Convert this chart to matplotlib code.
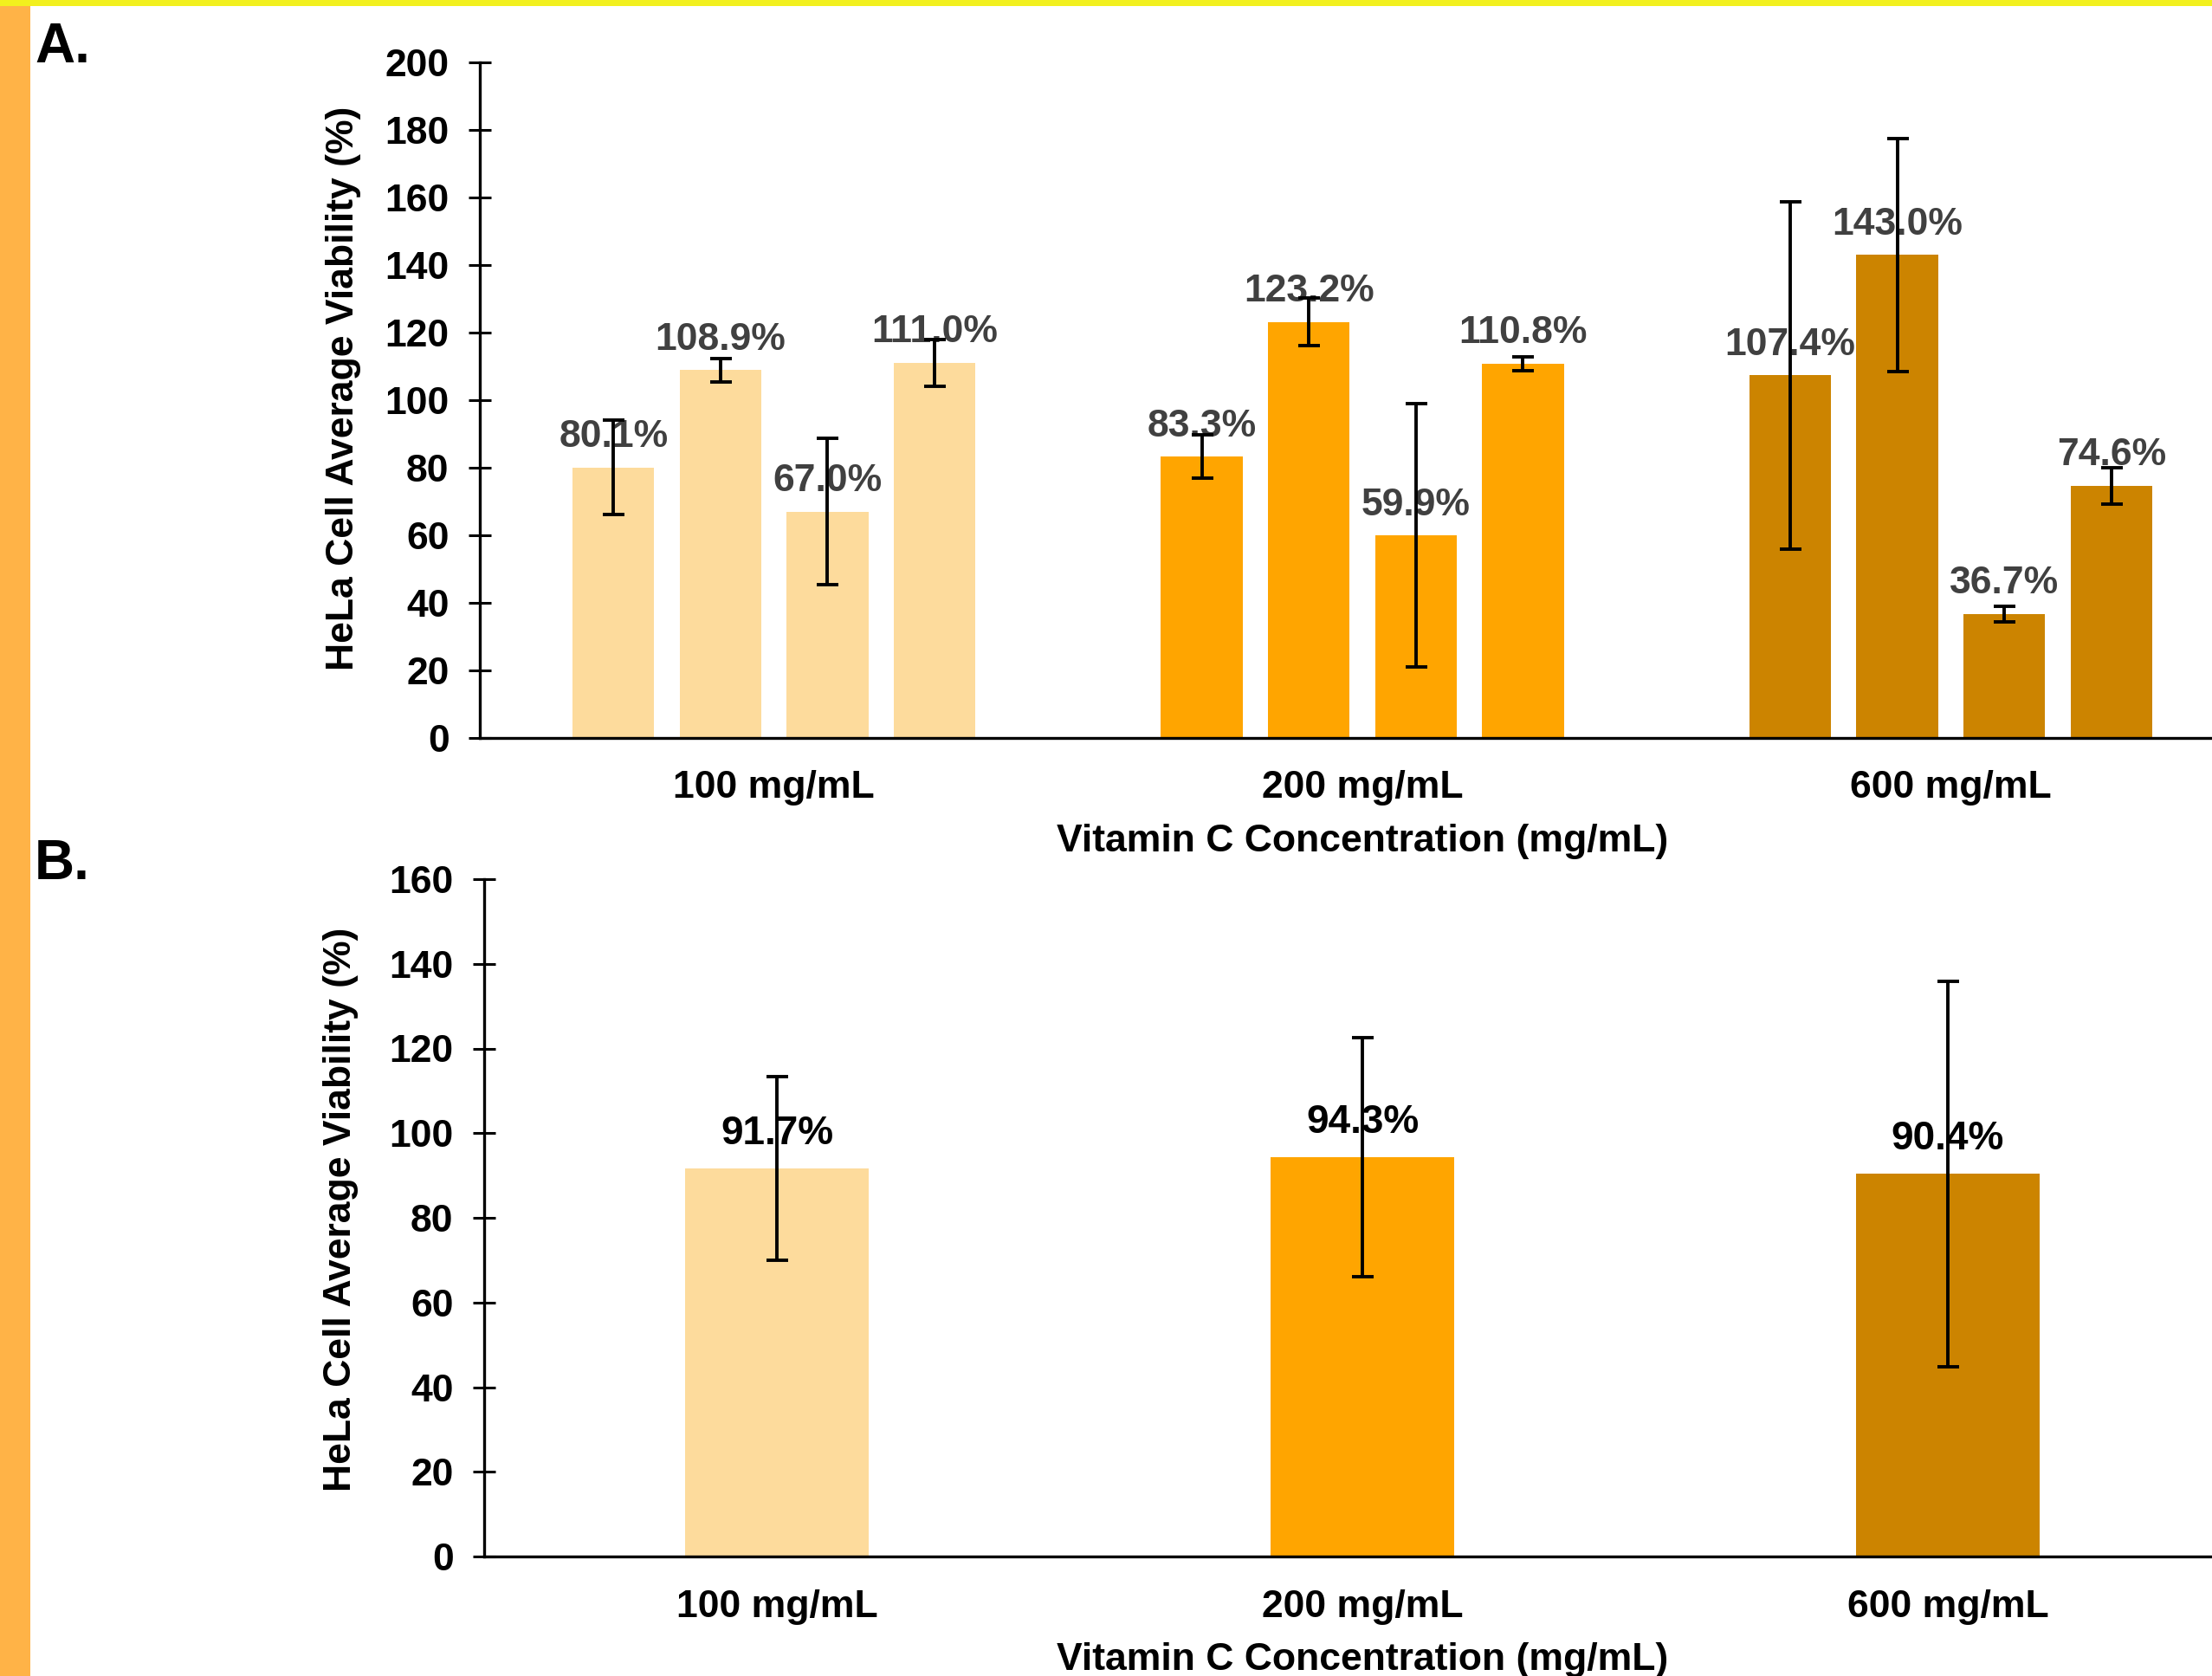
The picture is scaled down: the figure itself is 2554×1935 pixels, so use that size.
import matplotlib
matplotlib.use("Agg")
import matplotlib.pyplot as plt
import numpy as np
from matplotlib import font_manager

# ---------------- data ----------------
categories = ["100 mg/mL", "200 mg/mL", "600 mg/mL"]
colors = ["#FDDB9C", "#FFA500", "#CC8400"]

# Panel A: four replicates per concentration
a_values = [[80.1, 108.9, 67.0, 111.0],
            [83.3, 123.2, 59.9, 110.8],
            [107.4, 143.0, 36.7, 74.6]]
a_errors = [[14.0, 3.4, 21.7, 7.0],
            [6.5, 7.0, 39.0, 2.0],
            [51.4, 34.5, 2.3, 5.4]]

# Panel B: averages
b_values = [91.7, 94.3, 90.4]
b_errors = [21.7, 28.3, 45.5]

a_yticks = [0, 20, 40, 60, 80, 100, 120, 140, 160, 180, 200]
b_yticks = [0, 20, 40, 60, 80, 100, 120, 140, 160]

ylabel = "HeLa Cell Average Viability (%)"
xlabel = "Vitamin C Concentration (mg/mL)"

# ---------------- fonts ----------------
names = {f.name for f in font_manager.fontManager.ttflist}
narrow = "Liberation Sans Narrow" if "Liberation Sans Narrow" in names else "Liberation Sans"
wide = "Liberation Sans"

W, H = 2554, 1935
fig = plt.figure(figsize=(W / 100, H / 100), dpi=100)
fig.patch.set_facecolor("white")

# decorative stripes
fig.add_artist(plt.Rectangle((0, 0), 35 / W, 1, transform=fig.transFigure,
                             color="#FFB347", lw=0, zorder=0))
fig.add_artist(plt.Rectangle((0, 1 - 7 / H), 1, 7 / H, transform=fig.transFigure,
                             color="#F2F01E", lw=0, zorder=0))

FS = 32


def style_axes(ax, ymax, yticks):
    ax.set_xlim(-0.5, 2.5)
    ax.set_ylim(0, ymax)
    ax.set_yticks(yticks)
    ax.set_xticks(range(len(categories)))
    ax.set_xticklabels(categories)
    ax.patch.set_alpha(0)
    for s in ["top", "right"]:
        ax.spines[s].set_visible(False)
    for s in ["left", "bottom"]:
        ax.spines[s].set_linewidth(2.4)
        ax.spines[s].set_color("black")
    ax.tick_params(axis="y", direction="inout", length=19, width=2.2,
                   labelsize=FS, pad=16)
    ax.tick_params(axis="x", length=0, labelsize=FS, pad=27)
    for lab in ax.get_yticklabels() + ax.get_xticklabels():
        lab.set_fontfamily(narrow)
        lab.set_fontweight("bold")
    ax.set_ylabel(ylabel, fontsize=FS, fontweight="bold", family=narrow)
    ax.set_xlabel(xlabel, fontsize=FS, fontweight="bold", family=narrow)
    ax.xaxis.set_label_coords(0.5, -0.127)


# ---------------- Panel A ----------------
axA = fig.add_axes([554 / W, 1 - 852 / H, (2592 - 554) / W, (852 - 72) / H])
style_axes(axA, 200, a_yticks)
step = 0.182
bw = 0.139
for g in range(3):
    for i in range(4):
        x = g + (i - 1.5) * step
        v = a_values[g][i]
        e = a_errors[g][i]
        axA.bar(x, v, width=bw, color=colors[g], zorder=2)
        axA.errorbar(x, v, yerr=e, fmt="none", ecolor="black", elinewidth=2.8,
                     capsize=9, capthick=2.8, zorder=4)
        axA.annotate(f"{v:.1f}%", (x, v), xytext=(0, 17), textcoords="offset points",
                     ha="center", va="baseline", fontsize=FS, fontweight="bold",
                     color="#404040", family=wide, zorder=3)
axA.yaxis.set_label_coords(-0.067, 0.518)

# ---------------- Panel B ----------------
axB = fig.add_axes([559 / W, 1 - 1797 / H, (2587 - 559) / W, (1797 - 1015) / H])
style_axes(axB, 160, b_yticks)
for g in range(3):
    axB.bar(g, b_values[g], width=0.313, color=colors[g], zorder=2)
    axB.errorbar(g, b_values[g], yerr=b_errors[g], fmt="none", ecolor="black",
                 elinewidth=2.8, capsize=9, capthick=2.8, zorder=4)
    axB.annotate(f"{b_values[g]:.1f}%", (g, b_values[g]), xytext=(0, 20),
                 textcoords="offset points", ha="center", va="baseline",
                 fontsize=FS + 1, fontweight="bold", color="black", family=narrow, zorder=3)
axB.yaxis.set_label_coords(-0.0715, 0.513)

# panel letters
fig.text(40 / W, 1 - 72 / H, "A.", fontsize=46, fontweight="bold", family=narrow,
         va="baseline", ha="left")
fig.text(40 / W, 1 - 1015 / H, "B.", fontsize=46, fontweight="bold", family=narrow,
         va="baseline", ha="left")

fig.savefig("out.png", dpi=100)
